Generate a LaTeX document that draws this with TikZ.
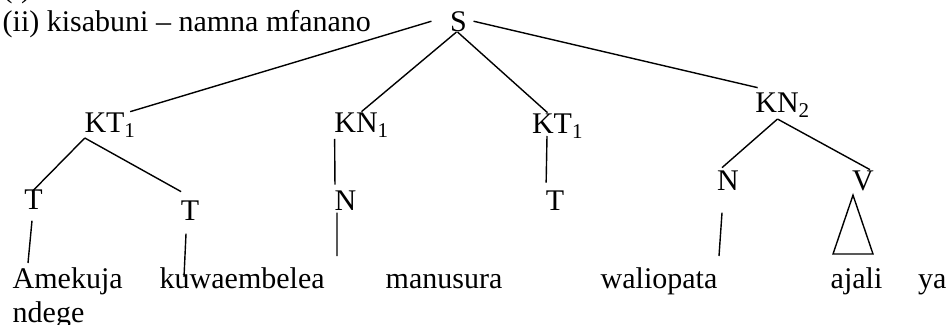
\documentclass[tikz,border=0pt]{standalone}
\usepackage{fontspec}
\setmainfont{Liberation Serif}
\begin{document}
\begin{tikzpicture}[x=1pt,y=-1pt,line width=1.4pt,
    lbl/.style = {inner sep=0pt, anchor=base, font=\fontsize{30}{34.5}\selectfont},
    word/.style = {lbl, anchor=base west}]
        \useasboundingbox (0,0) rectangle (949,324);
        % heading line
        \node[word] (hd0) at (2,-2) {(i)};
        \node[word] (hd) at (2,31) {(ii) kisabuni -- namna mfanano};
        \node[lbl] (S) at (458.5,31) {S};
        % phrases
        \node[lbl] (KTa) at (110,132) {KT\textsubscript{1}};
        \node[lbl] (KN1) at (361.5,132) {KN\textsubscript{1}};
        \node[lbl] (KTb) at (557.5,133) {KT\textsubscript{1}};
        \node[lbl] (KN2) at (782.5,112) {KN\textsubscript{2}};
        % categories
        \node[lbl] (T1) at (33.5,209) {T};
        \node[lbl] (T2) at (190,220) {T};
        \node[lbl] (N1) at (345.5,210) {N};
        \node[lbl] (T3) at (555,210) {T};
        \node[lbl] (N2) at (728,190) {N};
        \node[lbl] (V) at (863,190) {V};
        % words
        \node[word] (w1) at (12,288) {Amekuja};
        \node[word] (w2) at (159,288) {kuwaembelea};
        \node[word] (w3) at (385,288) {manusura};
        \node[word] (w4) at (600,288) {waliopata};
        \node[word] (w5) at (830,288) {ajali};
        \node[lbl, anchor=base east] (w6) at (947,288) {ya};
        \node[word] (w7) at (12,322) {ndege};
        %
        \coordinate (e1) at (28,263);
        \coordinate (e2) at (184,277);
        \coordinate (e3) at (337,256);
        \coordinate (e4) at (719,256);
        \coordinate (tl) at (833,254);
        \coordinate (tr) at (873,254);
        %
        \draw ([xshift=-18pt]S.west) -- ([xshift=-6pt]KTa.north east);
        \draw ([xshift=-2pt]S.south) -- (KN1.north);
        \draw ([xshift=-1pt]S.south) -- ([xshift=-10pt]KTb.north);
        \draw ([xshift=6pt]S.east) -- ([xshift=3pt,yshift=4pt]KN2.north west);
        \draw ([xshift=1pt]KTa.south west) -- ([xshift=-1.5pt,yshift=-3pt]T1.north);
        \draw ([xshift=1pt]KTa.south west) -- ([xshift=1pt,yshift=8pt]T2.north west);
        \draw ([xshift=1pt,yshift=-1pt]KN1.south west) -- ([xshift=1pt,yshift=5pt]N1.north west);
        \draw ([xshift=-10.5pt,yshift=3pt]KTb.south) -- ([xshift=1pt,yshift=7pt]T3.north west);
        \draw ([xshift=-5pt,yshift=-1pt]KN2.south) -- ([xshift=-6pt,yshift=2pt]N2.north);
        \draw ([xshift=-5pt,yshift=-1pt]KN2.south) -- ([xshift=7pt]V.north);
        \draw ([xshift=-1.5pt,yshift=-11pt]T1.south) -- (e1);
        \draw ([xshift=-4pt,yshift=-13pt]T2.south) -- (e2);
        \draw ([xshift=3pt,yshift=-2pt]N1.south west) -- (e3);
        \draw ([xshift=-6pt,yshift=-22pt]N2.south) -- (e4);
        \draw ([xshift=-10pt,yshift=-4pt]V.south) -- (tl) -- (tr) -- cycle;
      \end{tikzpicture}
\end{document}
